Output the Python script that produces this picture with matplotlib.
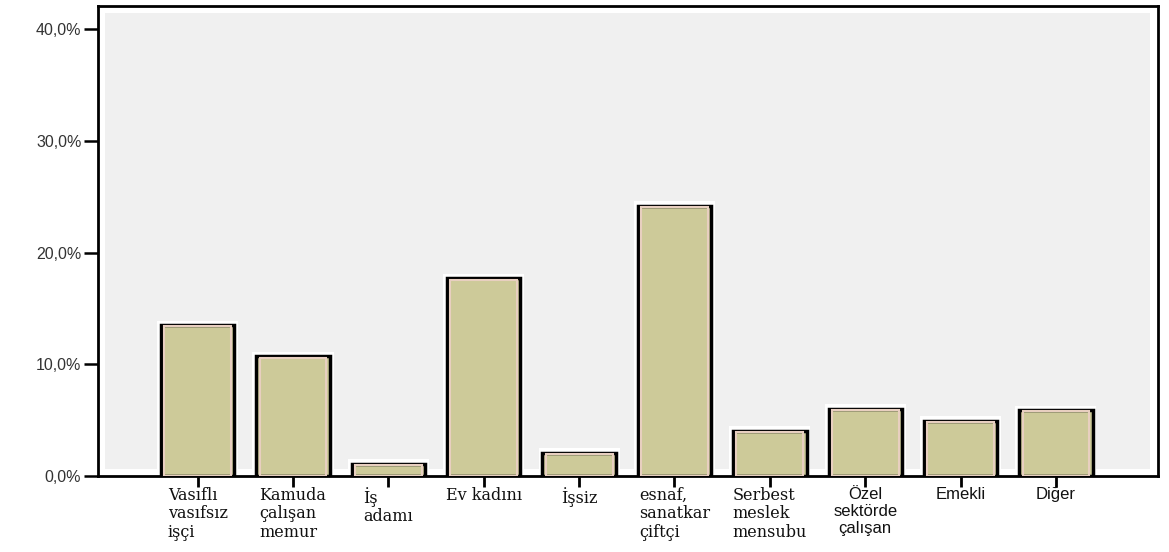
import matplotlib.pyplot as plt
from matplotlib.patches import Rectangle
from matplotlib.ticker import FuncFormatter

# meslek grupları ve yüzdeler
labels = ["Vasıflı\nvasıfsız\nişçi", "Kamuda\nçalışan\nmemur", "İş\nadamı", "Ev kadını",
          "İşsiz", "esnaf,\nsanatkar\nçiftçi", "Serbest\nmeslek\nmensubu",
          "Özel\nsektörde\nçalışan", "Emekli", "Diğer"]
serif_label = [True, True, True, True, True, True, True, False, False, False]
values = [13.5, 10.7, 1.1, 17.7, 2.1, 24.2, 4.05, 6.0, 4.95, 5.9]
yticks = [0, 10, 20, 30, 40]

fig = plt.figure(figsize=(11.69, 5.52), dpi=100)
ax = fig.add_axes([98 / 1169, 1 - 476 / 552, (1158 - 98) / 1169, (476 - 6) / 552])
ax.set_facecolor("white")

# iç gri alan
ax.add_patch(Rectangle((0.007, 0.015), 0.985, 0.97, transform=ax.transAxes,
                       facecolor="#f0f0f0", edgecolor="none", zorder=0))

x = list(range(len(values)))
# beyaz hale
ax.bar(x, [v + 0.4 for v in values], width=0.85, color="white", zorder=1)
ax.bar(x, values, width=0.77, color="#cdca99", edgecolor="black", linewidth=2.5, zorder=2)
ax.bar(x, [v - 0.12 for v in values], width=0.70, color="none", edgecolor="#e8cfc0",
       linewidth=1.5, zorder=3)

ax.set_xlim(-1.045, 10.07)
ax.set_ylim(0, 42.06)
ax.set_yticks(yticks)
ax.yaxis.set_major_formatter(FuncFormatter(lambda v, p: f"{v:.1f}%".replace(".", ",")))
ax.tick_params(axis="y", length=10, width=1.8, labelsize=11.5, pad=2)
for t in ax.get_yticklabels():
    t.set_fontfamily("Liberation Sans")
    t.set_color("#333333")

ax.set_xticks(x)
ax.set_xticklabels([])
ax.tick_params(axis="x", length=8, width=2, direction="out")

for i, (lab, is_serif) in enumerate(zip(labels, serif_label)):
    ax.text(i, -1.0, lab, ha="center", va="top", multialignment="left" if is_serif else "center",
            fontsize=11.5 if is_serif else 12,
            family="DejaVu Serif" if is_serif else "Liberation Sans",
            linespacing=1.1 if is_serif else 1.15, color="#111111")

for s in ax.spines.values():
    s.set_linewidth(2)
    s.set_color("black")

fig.savefig("out.png", dpi=100)
